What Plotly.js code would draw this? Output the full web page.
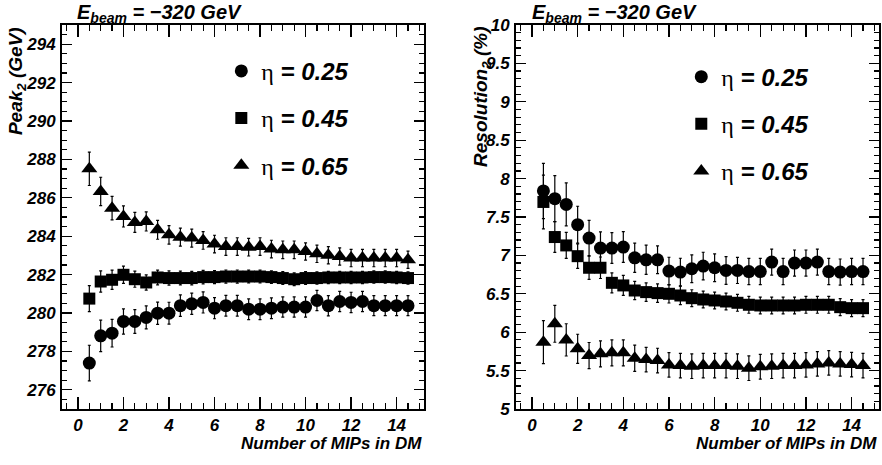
<!DOCTYPE html>
<html>
<head>
<meta charset="utf-8">
<script src="https://cdn.plot.ly/plotly-3.0.1.min.js"></script>
<style>
html,body{margin:0;padding:0;background:#fff;}
#chart{width:882px;height:465px;}
</style>
</head>
<body>
<div id="chart"></div>
<script>
const mips = [0.5,1,1.5,2,2.5,3,3.5,4,4.5,5,5.5,6,6.5,7,7.5,8,8.5,9,9.5,10,10.5,11,11.5,12,12.5,13,13.5,14,14.5];

const peak025 = [277.39,278.81,278.95,279.56,279.56,279.77,279.99,279.99,280.38,280.48,280.55,280.25,280.38,280.38,280.20,280.20,280.25,280.31,280.31,280.31,280.65,280.38,280.60,280.55,280.60,280.38,280.38,280.38,280.38];
const peak045 = [280.75,281.64,281.73,281.99,281.76,281.59,281.85,281.82,281.82,281.82,281.87,281.87,281.90,281.90,281.90,281.90,281.87,281.82,281.76,281.82,281.82,281.85,281.85,281.85,281.85,281.87,281.87,281.85,281.82];
const peak065 = [287.51,286.33,285.46,285.03,284.72,284.77,284.33,284.07,283.95,283.90,283.78,283.59,283.46,283.46,283.43,283.46,283.33,283.29,283.29,283.20,283.08,283.01,282.94,282.86,282.86,282.86,282.86,282.86,282.77];
const peakErr025 = [0.93,0.82,0.72,0.66,0.62,0.60,0.58,0.57,0.56,0.55,0.55,0.55,0.54,0.54,0.54,0.54,0.54,0.53,0.53,0.53,0.53,0.53,0.53,0.53,0.53,0.52,0.52,0.52,0.52];
const peakErr045 = [0.68,0.55,0.50,0.45,0.42,0.40,0.38,0.37,0.36,0.35,0.35,0.34,0.34,0.34,0.33,0.33,0.33,0.33,0.33,0.33,0.32,0.32,0.32,0.32,0.32,0.32,0.32,0.32,0.32];
const peakErr065 = [0.87,0.74,0.61,0.55,0.52,0.50,0.49,0.48,0.47,0.47,0.46,0.46,0.46,0.46,0.46,0.46,0.46,0.46,0.46,0.45,0.45,0.45,0.45,0.45,0.45,0.45,0.45,0.45,0.45];

const res025 = [7.839,7.739,7.664,7.40,7.226,7.096,7.096,7.109,6.969,6.943,6.943,6.796,6.783,6.826,6.861,6.839,6.804,6.804,6.79,6.79,6.913,6.79,6.90,6.90,6.913,6.79,6.783,6.79,6.79];
const res045 = [7.696,7.239,7.13,6.99,6.839,6.839,6.643,6.609,6.543,6.522,6.509,6.50,6.478,6.443,6.426,6.413,6.40,6.383,6.357,6.348,6.348,6.348,6.348,6.357,6.357,6.357,6.326,6.313,6.313];
const res065 = [5.87,6.109,5.90,5.783,5.696,5.718,5.731,5.731,5.661,5.643,5.631,5.574,5.565,5.557,5.565,5.565,5.565,5.557,5.531,5.55,5.557,5.565,5.565,5.574,5.587,5.60,5.587,5.578,5.565];
const resErr025 = [0.36,0.30,0.28,0.24,0.23,0.21,0.20,0.20,0.19,0.19,0.18,0.18,0.18,0.18,0.18,0.18,0.18,0.17,0.17,0.17,0.17,0.17,0.17,0.17,0.17,0.17,0.17,0.17,0.17];
const resErr045 = [0.35,0.20,0.17,0.16,0.15,0.14,0.13,0.13,0.12,0.12,0.12,0.12,0.12,0.11,0.11,0.11,0.11,0.11,0.11,0.11,0.11,0.11,0.11,0.11,0.11,0.11,0.11,0.11,0.11];
const resErr065 = [0.28,0.24,0.21,0.19,0.17,0.17,0.17,0.17,0.17,0.16,0.16,0.16,0.16,0.16,0.16,0.16,0.16,0.16,0.16,0.16,0.16,0.16,0.16,0.16,0.16,0.16,0.16,0.16,0.16];

const etaLabels = ['0.25','0.45','0.65'];
const mipTicks = ['0','2','4','6','8','10','12','14'];
const peakTicks = ['276','278','280','282','284','286','288','290','292','294'];
const resTicks = ['5','5.5','6','6.5','7','7.5','8','8.5','9','9.5','10'];

const symbols = ['circle','square','triangle-up'];
const sizes = [13,12,14];

const FONT = 'Liberation Sans, Arial, Helvetica, sans-serif';
function legendText(v){
  return '<span style="font-family:Liberation Serif;font-weight:normal;font-style:normal">η</span> = <b><i>' + v + '</i></b>';
}
function bi(t){ return '<b><i>' + t + '</i></b>'; }

function mk(y, err, i, xa, ya, leg){
  return {
    x: mips, y: y, xaxis: xa, yaxis: ya, type: 'scatter', mode: 'markers',
    name: legendText(etaLabels[i]), legend: leg, legendgroup: leg + i,
    marker: {symbol: symbols[i], size: sizes[i], color: '#000'},
    error_y: {type: 'data', array: err, visible: true, color: '#000', thickness: 1.2, width: 1.5}
  };
}

const data = [
  mk(peak025, peakErr025, 0, 'x', 'y', 'legend'),
  mk(peak045, peakErr045, 1, 'x', 'y', 'legend'),
  mk(peak065, peakErr065, 2, 'x', 'y', 'legend'),
  mk(res025, resErr025, 0, 'x2', 'y2', 'legend2'),
  mk(res045, resErr045, 1, 'x2', 'y2', 'legend2'),
  mk(res065, resErr065, 2, 'x2', 'y2', 'legend2')
];

const tickFont = {family: FONT, size: 17, color: '#000', weight: 'bold', style: 'italic'};

function xax(domain, anchor){
  return {
    domain: domain, anchor: anchor, range: [-0.7, 15.2],
    tickmode: 'array', tickvals: mipTicks.map(Number), ticktext: mipTicks.map(bi),
    ticks: 'inside', ticklen: 12, tickwidth: 1.2, tickcolor: '#000',
    minor: {ticks: 'inside', tick0: 0, dtick: 0.5, ticklen: 6, tickwidth: 1.2, tickcolor: '#000'},
    showline: true, linewidth: 2, linecolor: '#000', mirror: 'ticks',
    showgrid: false, zeroline: false, tickfont: tickFont, ticklabelstandoff: 0
  };
}
function yax(domain, anchor, range, ticks, minor){
  return {
    domain: domain, anchor: anchor, range: range,
    tickmode: 'array', tickvals: ticks.map(Number), ticktext: ticks.map(bi),
    ticks: 'inside', ticklen: 10, tickwidth: 1.2, tickcolor: '#000',
    minor: {ticks: 'inside', tick0: 0, dtick: minor, ticklen: 5, tickwidth: 1.2, tickcolor: '#000'},
    showline: true, linewidth: 2, linecolor: '#000', mirror: 'ticks',
    showgrid: false, zeroline: false, tickfont: tickFont, ticklabelstandoff: 1
  };
}

const titleFont = {family: FONT, size: 20, color: '#000', weight: 'bold', style: 'italic'};
const axTitleFont = {family: FONT, size: 17, color: '#000', weight: 'bold', style: 'italic'};
const yTitleFont = {family: FONT, size: 19, color: '#000', weight: 'bold', style: 'italic'};
const legFont = {family: FONT, size: 24, color: '#000', weight: 'bold', style: 'italic'};

const layout = {
  width: 882, height: 465,
  margin: {l: 62, r: 3, t: 25, b: 56, pad: 0},
  paper_bgcolor: '#fff', plot_bgcolor: '#fff',
  showlegend: true,
  xaxis: xax([0, 0.443], 'y'),
  yaxis: yax([0, 1], 'x', [275, 295], peakTicks, 0.5),
  xaxis2: xax([0.5557, 1], 'y2'),
  yaxis2: yax([0, 1], 'x2', [5, 10], resTicks, 0.1),
  legend: {x: 0.195, y: 0.938, xanchor: 'left', yanchor: 'top', bgcolor: 'rgba(0,0,0,0)',
           font: legFont, tracegroupgap: 13, itemclick: false},
  legend2: {x: 0.758, y: 0.923, xanchor: 'left', yanchor: 'top', bgcolor: 'rgba(0,0,0,0)',
           font: legFont, tracegroupgap: 13, itemclick: false},
  annotations: [
    {text: 'E<sub>beam</sub> = −320 GeV', xref: 'paper', yref: 'paper', x: 0.016, y: 1.0, xanchor: 'left', yanchor: 'bottom', showarrow: false, font: titleFont, yshift: -3},
    {text: 'E<sub>beam</sub> = −320 GeV', xref: 'paper', yref: 'paper', x: 0.573, y: 1.0, xanchor: 'left', yanchor: 'bottom', showarrow: false, font: titleFont, yshift: -3},
    {text: 'Number of MIPs in DM', xref: 'paper', yref: 'paper', x: 0.443, y: 0, xanchor: 'right', yanchor: 'top', showarrow: false, font: axTitleFont, yshift: -23},
    {text: 'Number of MIPs in DM', xref: 'paper', yref: 'paper', x: 1.0, y: 0, xanchor: 'right', yanchor: 'top', showarrow: false, font: axTitleFont, yshift: -23},
    {text: 'Peak<sub>2</sub> (GeV)', xref: 'paper', yref: 'paper', x: -0.055, y: 1.0, xanchor: 'center', yanchor: 'top', textangle: -90, showarrow: false, font: yTitleFont},
    {text: 'Resolution<sub>2</sub> (%)', xref: 'paper', yref: 'paper', x: 0.514, y: 1.0, xanchor: 'center', yanchor: 'top', textangle: -90, showarrow: false, font: yTitleFont}
  ]
};

Plotly.newPlot('chart', data, layout, {displayModeBar: false, staticPlot: true});
</script>
</body>
</html>
